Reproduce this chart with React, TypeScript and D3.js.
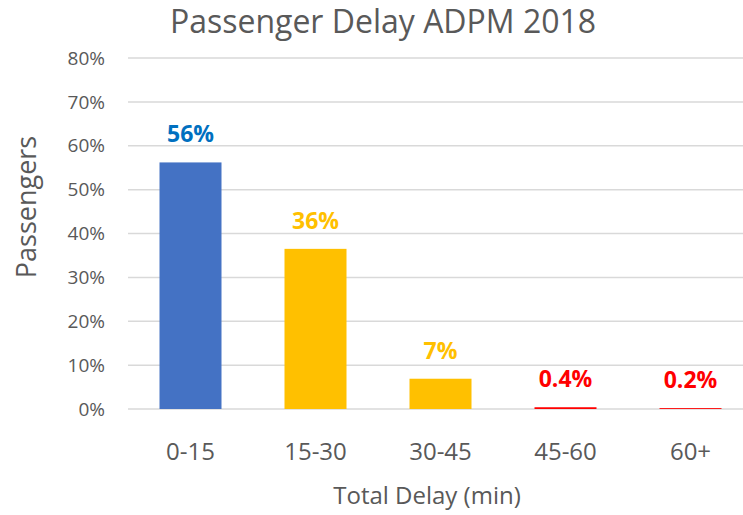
import * as d3 from 'd3'

const WIDTH = 743
const HEIGHT = 515
const MARGIN = { top: 58, right: -10, bottom: 106, left: 128 }

const categories = ['0-15', '15-30', '30-45', '45-60', '60+']
const values = [0.562, 0.365, 0.069, 0.004, 0.002]
const valueLabels = ['56%', '36%', '7%', '0.4%', '0.2%']
const barColors = ['#4472C4', '#FFC000', '#FFC000', '#FF0000', '#FF0000']
const labelColors = ['#0070C0', '#FFC000', '#FFC000', '#FF0000', '#FF0000']
const yTicks = [0, 0.1, 0.2, 0.3, 0.4, 0.5, 0.6, 0.7, 0.8]

const FONT = 'Open Sans, Noto Sans, sans-serif'

export default function App() {
  const x = d3
    .scaleBand<string>()
    .domain(categories)
    .range([MARGIN.left, WIDTH - MARGIN.right])
    .paddingInner(0.504)
    .paddingOuter(0.252)
  const y = d3.scaleLinear([0, 0.8], [HEIGHT - MARGIN.bottom, MARGIN.top])
  const fmt = d3.format('.0%')

  return (
    <svg
      width={WIDTH}
      height={HEIGHT}
      style={{ position: 'absolute', left: 0, top: 0, background: '#fff' }}
      fontFamily={FONT}
    >
      <text x={383} y={33} textAnchor="middle" fontSize={32} fill="#595959">
        Passenger Delay ADPM 2018
      </text>
      {yTicks.map((t) => (
        <g key={t}>
          <line
            x1={MARGIN.left}
            x2={WIDTH - MARGIN.right}
            y1={y(t)}
            y2={y(t)}
            stroke="#D9D9D9"
            strokeWidth={1.5}
          />
          <text x={105} y={y(t)} dy="0.35em" textAnchor="end" fontSize={19} fill="#595959">
            {fmt(t)}
          </text>
        </g>
      ))}
      {categories.map((c, i) => (
        <g key={c}>
          <rect
            x={x(c)}
            y={y(values[i])}
            width={x.bandwidth()}
            height={y(0) - y(values[i])}
            fill={barColors[i]}
          />
          <text
            x={x(c)! + x.bandwidth() / 2}
            y={y(values[i]) - 20}
            textAnchor="middle"
            fontSize={23}
            fontWeight="bold"
            fill={labelColors[i]}
          >
            {valueLabels[i]}
          </text>
          <text
            x={x(c)! + x.bandwidth() / 2}
            y={452}
            dy="0.35em"
            textAnchor="middle"
            fontSize={24}
            fill="#595959"
          >
            {c}
          </text>
        </g>
      ))}
      <text x={427} y={496} dy="0.35em" textAnchor="middle" fontSize={24} fill="#595959">
        Total Delay (min)
      </text>
      <text
        transform={`translate(27,207) rotate(-90)`}
        dy="0.35em"
        textAnchor="middle"
        fontSize={27}
        fill="#595959"
      >
        Passengers
      </text>
    </svg>
  )
}
